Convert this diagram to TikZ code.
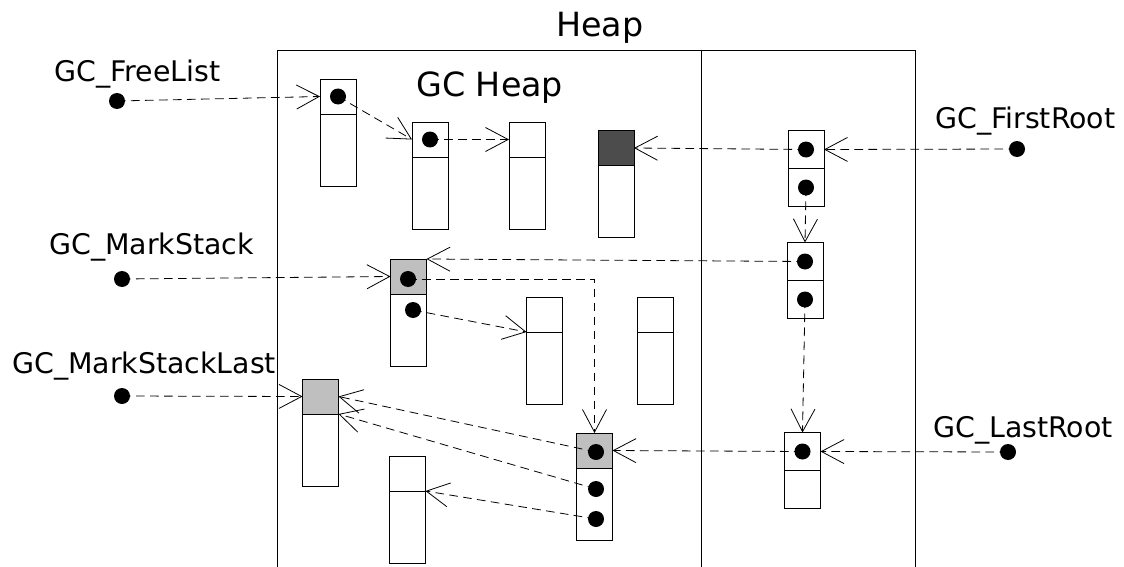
\documentclass[tikz,border=0pt]{standalone}
\usepackage{fontspec}
\setmainfont{DejaVu Sans}
\usetikzlibrary{arrows.meta,positioning}
\definecolor{markgray}{gray}{0.75}
\definecolor{darkcell}{gray}{0.3}
\begin{document}
\begin{tikzpicture}[x=0.75pt, y=-0.75pt,
    hdr/.style={draw, line width=0.6pt, minimum width=27pt, minimum height=26.25pt, inner sep=0pt, outer sep=0pt},
    bdy/.style={hdr, minimum height=54pt},
    rcell/.style={hdr, minimum height=28.5pt},
    ptr/.style={circle, fill, inner sep=0pt, minimum size=12pt},
    link/.style={dashed, dash pattern=on 6.5pt off 4pt, line width=0.6pt, -{Straight Barb[length=17pt, width=18pt]}},
    lbl/.style={inner sep=0pt, anchor=base west, font=\fontsize{21.3}{24}\selectfont},
    ttl/.style={inner sep=0pt, anchor=base west, font=\fontsize{25}{28}\selectfont}]
\useasboundingbox (0,0) rectangle (1124,567);

\draw[line width=0.6pt] (277,567) |- (915,50) -- (915,567);
\draw[line width=0.6pt] (701,50) -- (701,567);
\node[ttl] (heap) at (556,37) {Heap};
\node[ttl] (gcheap) at (416,97) {GC Heap};

\node[hdr] (a) at (338,96.5) {};
\node[bdy, below=0pt of a] (ab) {};
\node[hdr] (b) at (430,139.5) {};
\node[bdy, below=0pt of b] (bb) {};
\node[hdr] (c) at (527,139.5) {};
\node[bdy, below=0pt of c] (cb) {};
\node[hdr, fill=darkcell] (d) at (616,148) {};
\node[bdy, below=0pt of d] (db) {};
\node[hdr, fill=markgray] (g) at (408.5,276.5) {};
\node[bdy, below=0pt of g] (gb) {};
\node[hdr] (h) at (544.5,314.5) {};
\node[bdy, below=0pt of h] (hb) {};
\node[hdr] (i) at (655,314.5) {};
\node[bdy, below=0pt of i] (ib) {};
\node[hdr, fill=markgray] (j) at (320.5,396.5) {};
\node[bdy, below=0pt of j] (jb) {};
\node[hdr] (k) at (407.5,473.5) {};
\node[bdy, below=0pt of k] (kb) {};
\node[hdr, fill=markgray] (l) at (594.5,450.5) {};
\node[bdy, below=0pt of l] (lb) {};

\node[rcell] (e1) at (806,149.5) {};
\node[rcell, below=0pt of e1] (e2) {};
\node[rcell] (f1) at (805,261.5) {};
\node[rcell, below=0pt of f1] (f2) {};
\node[rcell] (m1) at (802.5,451.5) {};
\node[rcell, below=0pt of m1] (m2) {};

\node[lbl] (flt) at (54,81) {GC\_FreeList};
\node[lbl] (mst) at (49,254) {GC\_MarkStack};
\node[lbl] (mlt) at (12,373) {GC\_MarkStackLast};
\node[lbl] (frt) at (935,128) {GC\_FirstRoot};
\node[lbl] (lrt) at (933,437) {GC\_LastRoot};

\node[ptr] (flp) at (117,101) {};
\node[ptr] (msp) at (122,279) {};
\node[ptr] (mlp) at (122,396) {};
\node[ptr] (frp) at (1017,149) {};
\node[ptr] (lrp) at (1008,452) {};

\node[ptr] (ap) at (a) {};
\node[ptr] (bp) at (b) {};
\node[ptr] (gp) at (408,279) {};
\node[ptr] (gq) at (413,310) {};
\node[ptr] (lp) at (596,452) {};
\node[ptr] (lq) at (596,489) {};
\node[ptr] (lr) at (596,519) {};
\node[ptr] (e1p) at (e1) {};
\node[ptr] (e2p) at (e2) {};
\node[ptr] (f1p) at (f1) {};
\node[ptr] (f2p) at (f2) {};
\node[ptr] (m1p) at (m1) {};

\draw[link] (flp.center) -- (a.west);
\draw[link] (ap.center) -- (b.west);
\draw[link] (bp.center) -- (c.west);
\draw[link] (frp.center) -- (e1.east);
\draw[link] (e1p.center) -- (d.east);
\draw[link] (e2p.center) -- (f1.north);
\draw[link] (f1p.center) -- (g.north east);
\draw[link] (f2p.center) -- (m1.north);
\draw[link] (msp.center) -- (g.west);
\draw[link] (gp.center) -| (l.north);
\draw[link] (gq.center) -- (h.south west);
\draw[link] (mlp.center) -- (j.west);
\draw[link] (lp.center) -- (j.east);
\draw[link] (lq.center) -- (j.south east);
\draw[link] (lr.center) -- (k.south east);
\draw[link] (lrp.center) -- (m1.east);
\draw[link] (m1p.center) -- (l.east);
\end{tikzpicture}
\end{document}
